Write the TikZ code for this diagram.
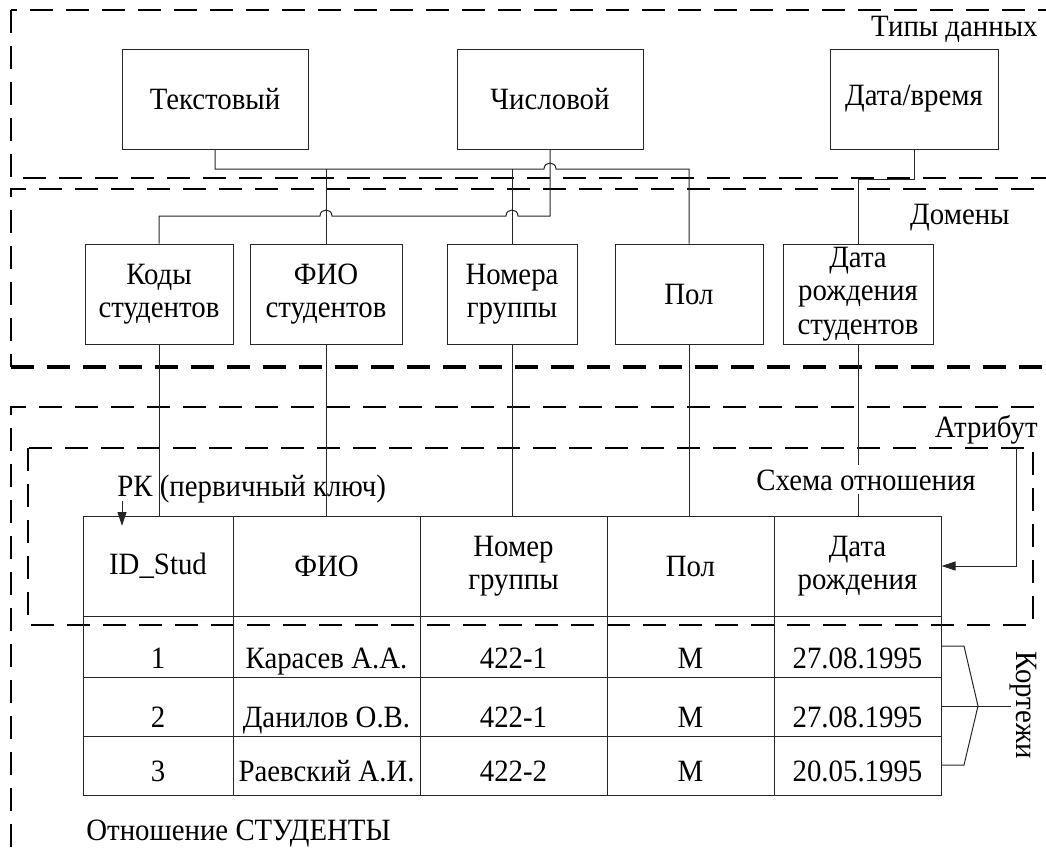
\documentclass[tikz,border=0pt]{standalone}
\usepackage{fontspec}
\setmainfont[FakeStretch=0.93]{Liberation Serif}
\usetikzlibrary{arrows.meta}
\tikzset{
  txtfont/.style={font=\fontsize{15.5}{16.8}\selectfont},
  box/.style={draw=black!85, line width=0.5pt, inner sep=0pt, align=center, txtfont},
  wire/.style={draw=black!85, line width=0.5pt},
  zone/.style={draw=black, line width=1.3pt, dash pattern=on 11.5pt off 6.5pt},
  zonebold/.style={zone, line width=2pt},
  lbl/.style={inner sep=0pt, txtfont},
  tip/.style={-{Triangle[length=7pt,width=4.5pt]}},
}
\begin{document}
\begin{tikzpicture}[x=0.5pt,y=-0.5pt]
\path[use as bounding box] (0,0) rectangle (1046,852);
\clip (0,0) rectangle (1046,852);

% dashed zones
\draw[zone] (11,10) rectangle (1070,178);
\draw[zone] (1070,189) -- (11,189) -- (11,367);
\draw[zonebold] (11,367) -- (1070,367);
\draw[zone] (1070,407) -- (11,407) -- (11,880);
\draw[zone] (28,448) rectangle (1033,625);

% data types
\node[box, minimum width=93pt, minimum height=50pt] (txt) at (215,99) {Текстовый};
\node[box, minimum width=93pt, minimum height=50pt] (num) at (550,99) {Числовой};
\node[box, minimum width=84pt, minimum height=50pt] (dt)  at (914,99) {Дата/время};
\node[lbl, anchor=base east] (lbltypes) at (1038,36) {Типы данных};

% domains
\node[box, minimum width=74pt, minimum height=50pt] (d1) at (159,294) {Коды\\студентов};
\node[box, minimum width=76pt, minimum height=50pt] (d2) at (326,294) {ФИО\\студентов};
\node[box, minimum width=65pt, minimum height=50pt] (d3) at (512,294) {Номера\\группы};
\node[box, minimum width=74pt, minimum height=50pt] (d4) at (689,294) {Пол};
\node[box, minimum width=75pt, minimum height=50pt] (d5) at (858,294) {Дата\\рождения\\студентов};
\node[lbl, anchor=base east] (lbldom) at (1010,224) {Домены};

% type -> domain links
\draw[wire] (txt.south) -- (215,169) -- (544,169)
  .. controls (544,161) and (556,161) .. (556,169) -- (689,169) -- (d4.north);
\draw[wire] (326,169) -- (d2.north);
\draw[wire] (512,169) -- (d3.north);
\draw[wire] (num.south) -- (550,216) -- (518,216)
  .. controls (518,208) and (506,208) .. (506,216) -- (332,216)
  .. controls (332,208) and (320,208) .. (320,216) -- (159,216) -- (d1.north);
\draw[wire] (dt.south) -- (914,179) -- (858,179) -- (d5.north);

% relation header
\node[box, minimum width=75pt,   minimum height=50pt] (h1) at (158,566)   {ID\_Stud};
\node[box, minimum width=93.5pt, minimum height=50pt] (h2) at (326.5,566) {ФИО};
\node[box, minimum width=93.5pt, minimum height=50pt] (h3) at (513.5,566) {Номер\\группы};
\node[box, minimum width=83.5pt, minimum height=50pt] (h4) at (690.5,566) {Пол};
\node[box, minimum width=83.5pt, minimum height=50pt] (h5) at (857.5,566) {Дата\\рождения};

% tuples grid
\draw[wire] (83,616) rectangle (941,795);
\draw[wire] (83,677) -- (941,677);
\draw[wire] (83,736) -- (941,736);
\foreach \cx in {233,420,607,774} \draw[wire] (\cx,616) -- (\cx,795);

\foreach \r/\yb/\a/\b/\c/\dd in {1/668/Карасев А.А./422-1/М/27.08.1995,
                                 2/727/Данилов О.В./422-1/М/27.08.1995,
                                 3/781/Раевский А.И./422-2/М/20.05.1995}{
  \node[lbl, anchor=base] (r\r c1) at (158,\yb)   {\r};
  \node[lbl, anchor=base] (r\r c2) at (326.5,\yb) {\a};
  \node[lbl, anchor=base] (r\r c3) at (513.5,\yb) {\b};
  \node[lbl, anchor=base] (r\r c4) at (690.5,\yb) {\c};
  \node[lbl, anchor=base] (r\r c5) at (857.5,\yb) {\dd};
}

% domain -> attribute links
\draw[wire] (d1.south) -- (d1.south |- h1.north);
\draw[wire] (d2.south) -- (d2.south |- h2.north);
\draw[wire] (d3.south) -- (d3.south |- h3.north);
\draw[wire] (d4.south) -- (d4.south |- h4.north);
\draw[wire] (d5.south) -- (d5.south |- h5.north);

% labels of the relation part
\node[lbl, anchor=base east] (lblattr) at (1038,437) {Атрибут};
\node[lbl, anchor=base, fill=white, inner sep=2pt] (lblschema) at (866,490) {Схема отношения};
\node[lbl, anchor=base west] (lblpk) at (117,496) {РК (первичный ключ)};
\node[lbl, anchor=base west] (lblrel) at (86,840) {Отношение СТУДЕНТЫ};

% primary key arrow
\coordinate (pkfrom) at (122,501);
\coordinate (pkto) at (122,526);
\draw[wire, tip] (pkfrom) -- (pkto);

% attribute arrow
\coordinate (attrfrom) at (1016,448);
\draw[wire, tip] (attrfrom) -- (1016,566) -- (h5.east);

% tuples brace
\draw[wire] (941,646) -- (964,646) -- (978,706) -- (964,765) -- (941,765);
\coordinate (bracetip) at (1011,706);
\draw[wire] (941,706) -- (bracetip);
\node[lbl, rotate=-90] (lbltup) at (1023,705) {Кортежи};
\end{tikzpicture}
\end{document}
